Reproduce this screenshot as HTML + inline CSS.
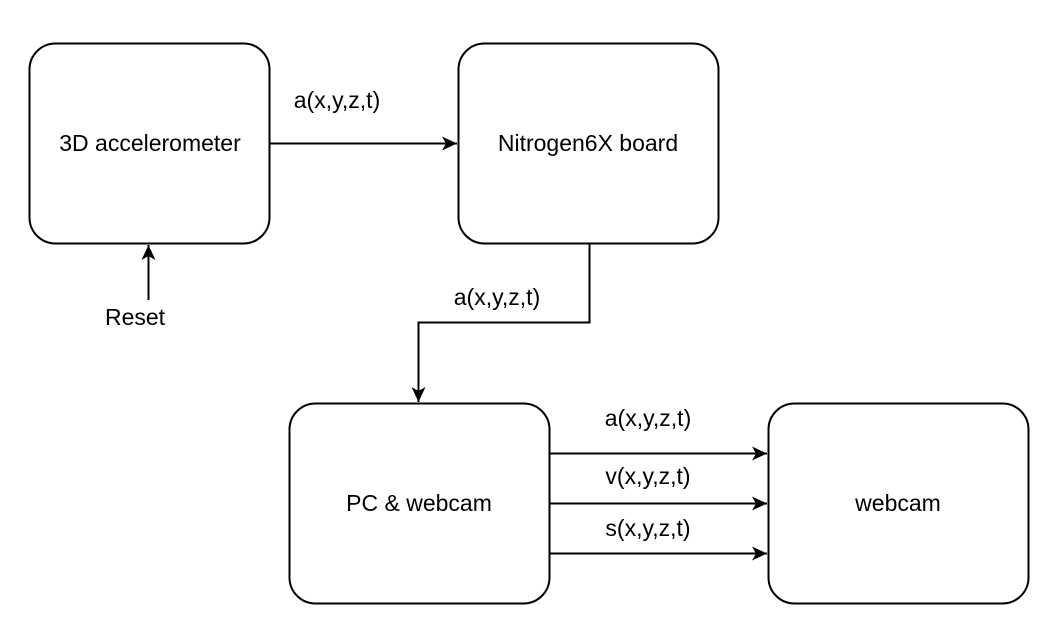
<!DOCTYPE html>
<html><head><style>body{margin:0;background:#fff}svg{display:block}</style></head>
<body>
<svg width="1046" height="636" xmlns="http://www.w3.org/2000/svg" font-family="Liberation Sans, Arial, sans-serif" font-size="23" fill="#000">
<defs><marker id="a" markerWidth="16" markerHeight="16" refX="15" refY="7" orient="auto" markerUnits="userSpaceOnUse"><path d="M0,0 L15,7 L0,14 L4,7 z" fill="#000"/></marker></defs>
<g fill="none" stroke="#000" stroke-width="2">
<rect x="29.5" y="43.5" width="240" height="200" rx="26"/>
<rect x="458.5" y="43.5" width="260" height="200" rx="26"/>
<rect x="289.5" y="403.5" width="260" height="200" rx="26"/>
<rect x="768.5" y="403.5" width="260" height="200" rx="26"/>
<line x1="270" y1="143.5" x2="457" y2="143.5" marker-end="url(#a)"/>
<line x1="148.5" y1="300" x2="148.5" y2="245" marker-end="url(#a)"/>
<polyline points="589.5,244 589.5,322.5 418.5,322.5 418.5,402" marker-end="url(#a)"/>
<line x1="550" y1="453.5" x2="767" y2="453.5" marker-end="url(#a)"/>
<line x1="550" y1="503.5" x2="767" y2="503.5" marker-end="url(#a)"/>
<line x1="550" y1="553.5" x2="767" y2="553.5" marker-end="url(#a)"/>
</g>
<g text-anchor="middle">
<text x="150" y="151">3D accelerometer</text>
<text x="588" y="151">Nitrogen6X board</text>
<text x="419" y="511">PC &amp; webcam</text>
<text x="898" y="511">webcam</text>
<text x="135" y="325">Reset</text>
<text x="337" y="108">a(x,y,z,t)</text>
<text x="497" y="305">a(x,y,z,t)</text>
<text x="648" y="426">a(x,y,z,t)</text>
<text x="648" y="484">v(x,y,z,t)</text>
<text x="648" y="536">s(x,y,z,t)</text>
</g>
</svg>
</body></html>
